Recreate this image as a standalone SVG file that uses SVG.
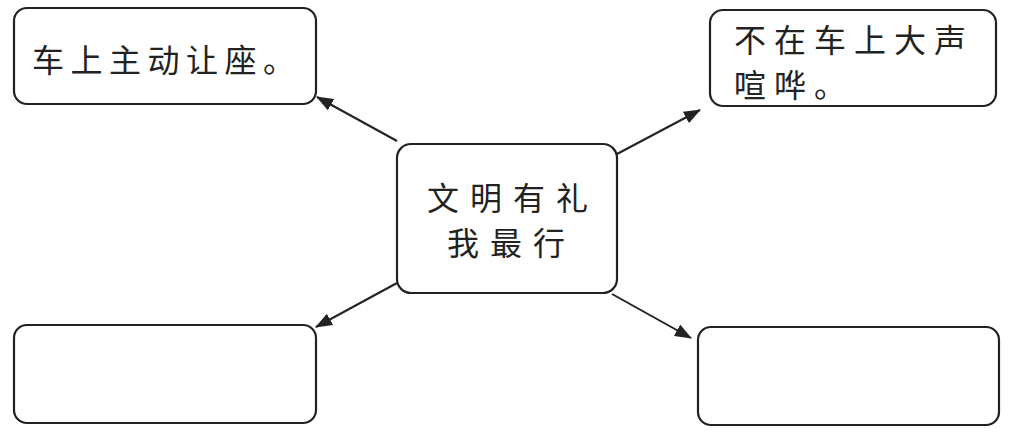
<svg xmlns="http://www.w3.org/2000/svg" width="1014" height="432" viewBox="0 0 1014 432">
<style>
.box{fill:#fff;stroke:#222;stroke-width:2.2}
.t{font-family:"Noto Sans CJK SC","Noto Sans CJK TC",sans-serif;font-size:32px;fill:#222}
.c{stroke:#222;stroke-width:2;fill:none;marker-end:url(#ah)}
</style>
<defs>
<marker id="ah" viewBox="0 0 17 13" refX="16" refY="6.5" markerWidth="17" markerHeight="13" markerUnits="userSpaceOnUse" orient="auto">
<path d="M0,0 L17,6.5 L0,13 Z" fill="#222"/>
</marker>
</defs>
<rect width="1014" height="432" fill="#fff"/>
<g id="connectors">
<line class="c" x1="397" y1="141" x2="317" y2="97"/>
<line class="c" x1="617" y1="154" x2="700" y2="110"/>
<line class="c" x1="397" y1="283" x2="316" y2="327"/>
<line class="c" x1="612" y1="294" x2="691" y2="338"/>
</g>
<g id="center">
<rect class="box" x="397" y="144" width="220" height="149" rx="14"/>
<text class="t" x="427" y="210" letter-spacing="11">文明有礼</text>
<text class="t" x="447" y="255" letter-spacing="11">我最行</text>
</g>
<g id="topLeft">
<rect class="box" x="14" y="8" width="302" height="96" rx="13"/>
<text class="t" x="32" y="72" letter-spacing="6.5">车上主动让座。</text>
</g>
<g id="topRight">
<rect class="box" x="710" y="10" width="286" height="96" rx="13"/>
<text class="t" x="734" y="52" letter-spacing="8">不在车上大声</text>
<text class="t" x="734" y="97" letter-spacing="8">喧哗。</text>
</g>
<g id="bottomLeft">
<rect class="box" x="14" y="325" width="302" height="98" rx="13"/>
</g>
<g id="bottomRight">
<rect class="box" x="698" y="327" width="301" height="98" rx="13"/>
</g>
</svg>
